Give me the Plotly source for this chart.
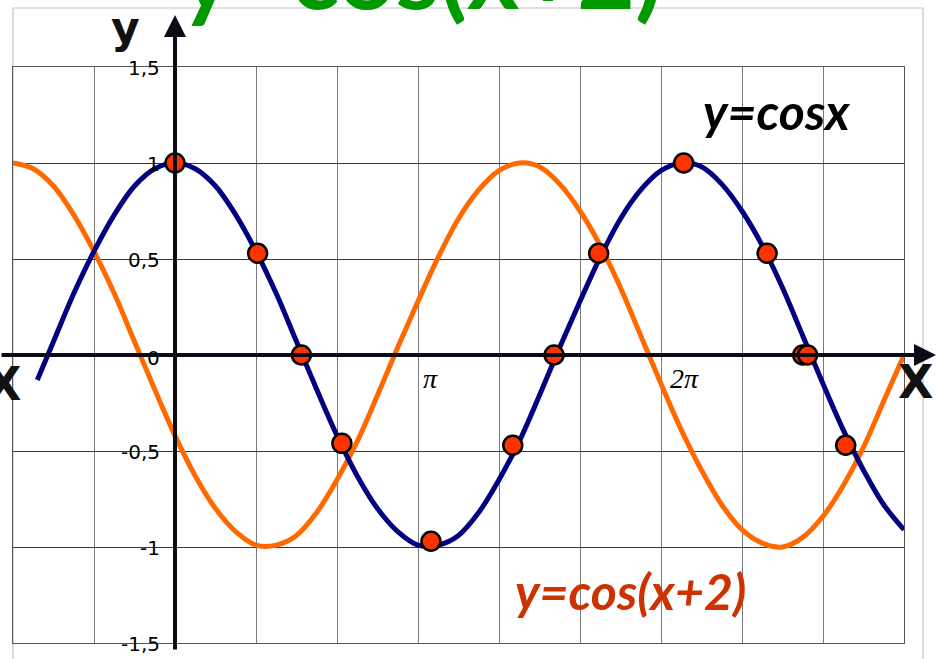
import plotly.graph_objects as go

# ---- data ----
blue_x = [-1.7, -1.5, -1.25, -1.0, -0.75, -0.5, -0.25, 0.0, 0.25, 0.5, 0.75, 1.0,
          1.25, 1.5, 1.75, 2.0, 2.25, 2.5, 2.75, 3.0, 3.25, 3.5, 3.75, 4.0,
          4.25, 4.5, 4.75, 5.0, 5.25, 5.5, 5.75, 6.0, 6.25, 6.5, 6.75, 7.0,
          7.25, 7.5, 7.75, 8.0, 8.25, 8.5, 8.75, 9.0]
blue_y = [-0.13, 0.07, 0.32, 0.54, 0.73, 0.88, 0.97, 1.00, 0.97, 0.88, 0.73, 0.54,
          0.32, 0.07, -0.18, -0.42, -0.63, -0.80, -0.92, -0.99, -0.99, -0.94, -0.82, -0.65,
          -0.45, -0.21, 0.04, 0.28, 0.51, 0.71, 0.86, 0.96, 1.00, 0.98, 0.89, 0.75,
          0.57, 0.35, 0.10, -0.15, -0.39, -0.60, -0.78, -0.91]

orange_x = [-2.0, -1.75, -1.5, -1.25, -1.0, -0.75, -0.5, -0.25, 0.0, 0.25, 0.5, 0.75,
            1.0, 1.25, 1.5, 1.75, 2.0, 2.25, 2.5, 2.75, 3.0, 3.25, 3.5, 3.75,
            4.0, 4.25, 4.5, 4.75, 5.0, 5.25, 5.5, 5.75, 6.0, 6.25, 6.5, 6.75,
            7.0, 7.25, 7.5, 7.75, 8.0, 8.25, 8.5, 8.75, 9.0]
orange_y = [1.00, 0.97, 0.88, 0.73, 0.54, 0.32, 0.07, -0.18, -0.42, -0.63, -0.80, -0.92,
            -0.99, -0.99, -0.94, -0.82, -0.65, -0.45, -0.21, 0.04, 0.28, 0.51, 0.71, 0.86,
            0.96, 1.00, 0.98, 0.89, 0.75, 0.57, 0.35, 0.10, -0.15, -0.39, -0.60, -0.78,
            -0.91, -0.98, -1.00, -0.95, -0.84, -0.68, -0.48, -0.24, 0.00]

point_x = [0.00, 1.02, 1.56, 2.06, 3.16, 4.17, 4.68, 5.23, 6.28, 7.31, 7.75, 7.81, 8.28]
point_y = [1.00, 0.53, 0.00, -0.46, -0.97, -0.47, 0.00, 0.53, 1.00, 0.53, 0.00, 0.00, -0.47]

ytick_vals = [1.5, 1.0, 0.5, 0.0, -0.5, -1.0, -1.5]
ytick_text = ["1,5", "1", "0,5", "0", "-0,5", "-1", "-1,5"]
xtick_vals = [3.14159, 6.28319]
xtick_text = ["π", "2π"]

X_RANGE = [-2, 9]
Y_RANGE = [-1.5, 1.5]

W, H = 937, 659
ML, MR, MT, MB = 13, 33, 67, 16
PW, PH = W - ML - MR, H - MT - MB


def px_to_paper_x(px):
    return (px - ML) / PW


def px_to_paper_y(py):
    return (H - MB - py) / PH


fig = go.Figure()

fig.add_trace(go.Scatter(x=orange_x, y=orange_y, mode="lines",
                         line=dict(color="#FF6A00", width=5, shape="spline"),
                         hoverinfo="skip", showlegend=False))
fig.add_trace(go.Scatter(x=blue_x, y=blue_y, mode="lines",
                         line=dict(color="#000080", width=5, shape="spline"),
                         hoverinfo="skip", showlegend=False))
fig.add_trace(go.Scatter(x=point_x, y=point_y, mode="markers",
                         marker=dict(size=19, color="#FF3300",
                                     line=dict(color="black", width=2.5)),
                         hoverinfo="skip", showlegend=False, cliponaxis=False))

annotations = []
# y tick labels
for v, t in zip(ytick_vals, ytick_text):
    annotations.append(dict(x=0, y=v, xref="x", yref="y", text=t, showarrow=False,
                            xanchor="right", yanchor="middle", xshift=-13,
                            yshift=-1 if v != 0 else -3,
                            font=dict(family="DejaVu Sans", size=20, color="black")))
# pi labels
for v, t in zip(xtick_vals, xtick_text):
    annotations.append(dict(x=v, y=0, xref="x", yref="y", text=t, showarrow=False,
                            xanchor="center", yanchor="middle", yshift=-23, xshift=1,
                            font=dict(family="Liberation Serif", size=28, color="black",
                                      style="italic")))

# axis arrows
annotations.append(dict(x=0, y=px_to_paper_y(15), xref="x", yref="paper",
                        text="", showarrow=True, ax=0, ay=636, axref="pixel", ayref="pixel",
                        arrowhead=2, arrowsize=1.1, arrowwidth=4, arrowcolor="#0b0b16",
                        standoff=0))
annotations.append(dict(x=px_to_paper_x(937), y=0, xref="paper", yref="y",
                        text="", showarrow=True, ax=-937, ay=0, axref="pixel", ayref="pixel",
                        arrowhead=2, arrowsize=1.1, arrowwidth=4, arrowcolor="#0b0b16",
                        standoff=0))

# titles / labels
annotations.append(dict(x=px_to_paper_x(421), y=px_to_paper_y(-30), xref="paper", yref="paper",
                        text="<b>y=cos(x+2)</b>", showarrow=False, xanchor="center", yanchor="middle",
                        font=dict(family="Lato", size=100, color="#009900")))
annotations.append(dict(x=px_to_paper_x(776), y=px_to_paper_y(111), xref="paper", yref="paper",
                        text="<b><i>y=cosx</i></b>", showarrow=False, xanchor="center", yanchor="middle",
                        font=dict(family="Lato", size=50, color="black")))
annotations.append(dict(x=px_to_paper_x(630), y=px_to_paper_y(591), xref="paper", yref="paper",
                        text="<b><i>y=cos(x+2)</i></b>", showarrow=False, xanchor="center", yanchor="middle",
                        font=dict(family="Lato", size=50, color="#CC3300")))
annotations.append(dict(x=px_to_paper_x(125), y=px_to_paper_y(27), xref="paper", yref="paper",
                        text="<b>y</b>", showarrow=False, xanchor="center", yanchor="middle",
                        font=dict(family="DejaVu Sans", size=44, color="#111111")))
annotations.append(dict(x=px_to_paper_x(915), y=px_to_paper_y(382), xref="paper", yref="paper",
                        text="<b>X</b>", showarrow=False, xanchor="center", yanchor="middle",
                        font=dict(family="DejaVu Sans", size=46, color="#111111")))
annotations.append(dict(x=px_to_paper_x(3), y=px_to_paper_y(384), xref="paper", yref="paper",
                        text="<b>X</b>", showarrow=False, xanchor="center", yanchor="middle",
                        font=dict(family="DejaVu Sans", size=46, color="#111111")))

shapes = [
    dict(type="rect", xref="paper", yref="paper",
         x0=px_to_paper_x(13), x1=px_to_paper_x(923),
         y0=px_to_paper_y(668), y1=px_to_paper_y(8),
         line=dict(color="#C4C4C4", width=1.2), layer="below"),
]

fig.update_layout(
    width=W, height=H,
    margin=dict(l=ML, r=MR, t=MT, b=MB),
    paper_bgcolor="white", plot_bgcolor="white",
    xaxis=dict(range=X_RANGE, dtick=1, tick0=0, showgrid=True, gridcolor="#7a7a7a", gridwidth=1.3,
               zeroline=False, showticklabels=False, ticks="", showline=True, mirror=True,
               linecolor="#555555", linewidth=1.3, fixedrange=True),
    yaxis=dict(range=Y_RANGE, dtick=0.5, tick0=0, showgrid=True, gridcolor="#3a3a3a", gridwidth=1.3,
               zeroline=False, showticklabels=False, ticks="", showline=True, mirror=True,
               linecolor="#555555", linewidth=1.3, fixedrange=True),
    annotations=annotations,
    shapes=shapes,
)

fig.write_html("out.html", config={"displayModeBar": False},
               post_script="document.body.style.margin='0';document.body.style.overflow='hidden';")
